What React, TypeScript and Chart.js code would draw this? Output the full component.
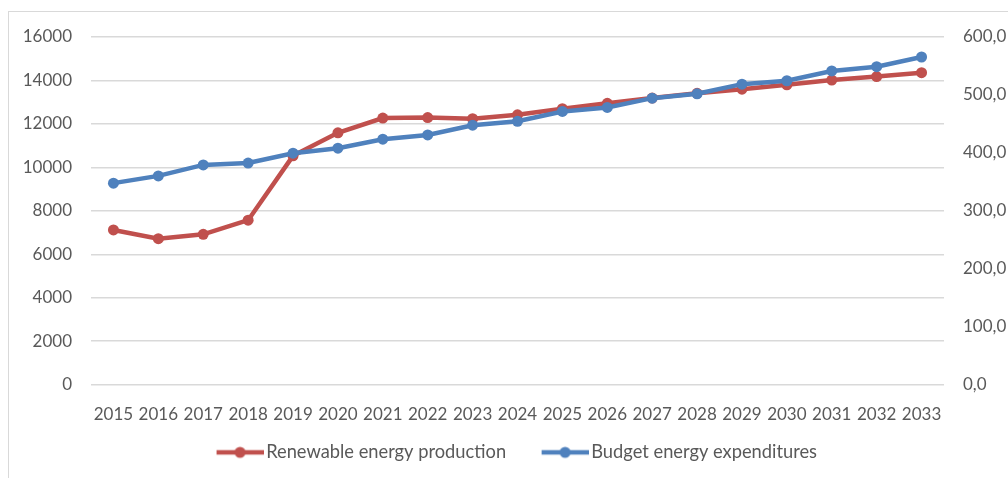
import { useEffect, useRef } from "react";
import { Chart, registerables } from "chart.js";

Chart.register(...registerables);

const years = [
  "2015", "2016", "2017", "2018", "2019", "2020", "2021", "2022", "2023", "2024",
  "2025", "2026", "2027", "2028", "2029", "2030", "2031", "2032", "2033",
];

const renewableProduction = [
  7120, 6720, 6920, 7570, 10530, 11590, 12270, 12290, 12240, 12420,
  12700, 12950, 13190, 13410, 13600, 13800, 14020, 14180, 14360,
];

const budgetExpenditures = [
  347.8, 360.3, 379.3, 382.5, 399.5, 408.1, 423.6, 431.0, 447.8, 454.5,
  471.5, 478.5, 494.5, 502.0, 518.6, 524.5, 541.4, 548.8, 565.5,
];

const seriesNames = ["Renewable energy production", "Budget energy expenditures"];

const RED = "#C0504D";
const BLUE = "#4F81BD";
const TEXT = "#595959";
const GRID = "#D9D9D9";
const FONT = "Lato";

function legendMarker(color: string) {
  const c = document.createElement("canvas");
  c.width = 79;
  c.height = 14;
  const ctx = c.getContext("2d")!;
  ctx.strokeStyle = color;
  ctx.lineWidth = 4.5;
  ctx.beginPath();
  ctx.moveTo(32, 7);
  ctx.lineTo(79, 7);
  ctx.stroke();
  ctx.fillStyle = color;
  ctx.beginPath();
  ctx.arc(55.5, 7, 5.5, 0, Math.PI * 2);
  ctx.fill();
  return c;
}

export default function App() {
  const ref = useRef<HTMLCanvasElement | null>(null);

  useEffect(() => {
    if (!ref.current) return;
    const markers = [legendMarker(RED), legendMarker(BLUE)];
    const chart = new Chart(ref.current, {
      type: "line",
      data: {
        labels: years,
        datasets: [
          {
            label: seriesNames[0],
            data: renewableProduction,
            borderColor: RED,
            backgroundColor: RED,
            pointBackgroundColor: RED,
            pointBorderWidth: 0,
            pointRadius: 5.5,
            pointHoverRadius: 5.5,
            borderWidth: 4.5,
            yAxisID: "y",
            order: 2,
          },
          {
            label: seriesNames[1],
            data: budgetExpenditures,
            borderColor: BLUE,
            backgroundColor: BLUE,
            pointBackgroundColor: BLUE,
            pointBorderWidth: 0,
            pointRadius: 5.5,
            pointHoverRadius: 5.5,
            borderWidth: 4.5,
            yAxisID: "y1",
            order: 1,
          },
        ],
      },
      options: {
        responsive: false,
        animation: false,
        layout: { padding: { top: 37, left: 0, right: 0, bottom: 6.5 } },
        plugins: {
          tooltip: { enabled: false },
          legend: {
            position: "bottom",
            labels: {
              usePointStyle: true,
              pointStyleWidth: 66,
              padding: 10,
              color: TEXT,
              font: { family: FONT, size: 18.3 },
              generateLabels: (ch: any) => {
                const items = Chart.defaults.plugins.legend.labels.generateLabels(ch);
                items.sort((a: any, b: any) => a.datasetIndex - b.datasetIndex);
                return items.map((it: any) => ({ ...it, pointStyle: markers[it.datasetIndex] }));
              },
            },
          },
        },
        scales: {
          x: {
            offset: true,
            grid: { display: false },
            border: { display: false },
            ticks: { color: TEXT, font: { family: FONT, size: 17 }, padding: 12, maxRotation: 0, autoSkip: false },
            afterFit: (s: any) => { s.height = 48.5; },
          },
          y: {
            position: "left",
            min: 0,
            max: 16000,
            grid: { color: GRID, lineWidth: 1.5, drawTicks: false },
            border: { display: false },
            ticks: {
              stepSize: 2000,
              color: TEXT,
              font: { family: FONT, size: 17 },
              padding: 19,
              callback: (v: any) => String(v),
            },
            afterFit: (s: any) => { s.width = 91; },
          },
          y1: {
            position: "right",
            min: 0,
            max: 600,
            grid: { display: false, drawTicks: false },
            border: { display: false },
            ticks: {
              stepSize: 100,
              color: TEXT,
              font: { family: FONT, size: 17 },
              padding: 19,
              callback: (v: any) => Number(v).toFixed(1).replace(".", ","),
            },
            afterFit: (s: any) => { s.width = 64; },
          },
        },
      },
    });
    return () => chart.destroy();
  }, []);

  return (
    <div style={{ position: "absolute", left: 0, top: 0, width: 1008, height: 478, overflow: "hidden", background: "#fff" }}>
      <div style={{ position: "absolute", left: 8, top: 11, width: 1200, height: 700, border: "1px solid #D9D9D9", boxSizing: "border-box" }} />
      <canvas ref={ref} width={1008} height={478} style={{ position: "absolute", left: 0, top: 0, width: 1008, height: 478 }} />
    </div>
  );
}
